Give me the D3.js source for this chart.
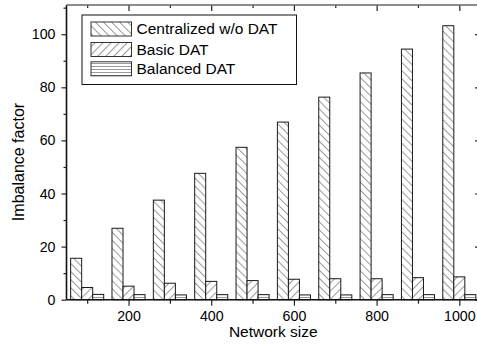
<!DOCTYPE html>
<html>
<head>
<meta charset="utf-8" />
<title>Imbalance factor</title>
<style>
  body { margin: 0; background: #fff; }
  text { font-family: "Liberation Sans", Arial, sans-serif; fill: #000; }
</style>
</head>
<body>
<svg id="chart" width="477" height="344"></svg>
<script src="https://d3js.org/d3.v7.min.js"></script>
<script>
var sizes = [100, 200, 300, 400, 500, 600, 700, 800, 900, 1000];
var centralized = [15.6, 26.9, 37.5, 47.6, 57.4, 66.9, 76.3, 85.4, 94.4, 103.2];
var basicDat = [4.6, 5.1, 6.2, 6.9, 7.2, 7.7, 7.9, 7.9, 8.3, 8.6];
var balancedDat = [2.0, 1.9, 1.8, 1.9, 1.9, 1.8, 1.8, 1.9, 1.9, 1.9];
var seriesNames = ["Centralized w/o DAT", "Basic DAT", "Balanced DAT"];
var xTicks = [200, 400, 600, 800, 1000];
var yTicks = [0, 20, 40, 60, 80, 100];

var svg = d3.select("#chart");
var plotL = 66.5, plotR = 480, plotT = 5, plotB = 299.7;

var x = d3.scaleLinear().domain([50, 1050]).range([plotL, plotR]);
var y = d3.scaleLinear().domain([0, 111]).range([plotB, plotT]);

// hatch patterns
var defs = svg.append("defs");
function hatch(id, angle, gap) {
  var p = defs.append("pattern")
    .attr("id", id)
    .attr("patternUnits", "userSpaceOnUse")
    .attr("width", gap).attr("height", gap)
    .attr("patternTransform", "rotate(" + angle + ")");
  p.append("rect").attr("width", gap).attr("height", gap).attr("fill", "#fff");
  p.append("line")
    .attr("x1", 0.5).attr("y1", 0).attr("x2", 0.5).attr("y2", gap)
    .attr("stroke", "#9a9a9a").attr("stroke-width", 1);
}
hatch("h0", -45, 5.7);
hatch("h1", 45, 5.7);
hatch("h2", 90, 3);
var fills = ["url(#h0)", "url(#h1)", "url(#h2)"];

var series = [centralized, basicDat, balancedDat];
var bw = 80 / 3;

series.forEach(function(vals, i) {
  svg.append("g").selectAll("rect")
    .data(vals)
    .enter().append("rect")
    .attr("x", function(d, j) { return x(sizes[j] - 40 + i * bw); })
    .attr("width", function(d, j) { return x(sizes[j] - 40 + (i + 1) * bw) - x(sizes[j] - 40 + i * bw); })
    .attr("y", function(d) { return y(d); })
    .attr("height", function(d) { return y(0) - y(d); })
    .attr("fill", fills[i])
    .attr("stroke", "#1a1a1a")
    .attr("stroke-width", 1);
});

// axes
var xMinor = d3.range(100, 1001, 200);
var yMinor = d3.range(10, 111, 20);

svg.append("g").attr("transform", "translate(0," + plotB + ")")
  .call(d3.axisBottom(x).tickValues(xTicks).tickSize(6).tickPadding(5).tickFormat(d3.format("d")));
svg.append("g").attr("transform", "translate(0," + plotB + ")")
  .call(d3.axisBottom(x).tickValues(xMinor).tickSize(4).tickFormat(""));

svg.append("g").attr("transform", "translate(" + plotL + ",0)")
  .call(d3.axisLeft(y).tickValues(yTicks).tickSize(5).tickPadding(6));
svg.append("g").attr("transform", "translate(" + plotL + ",0)")
  .call(d3.axisLeft(y).tickValues(yMinor).tickSize(3).tickFormat(""));

svg.append("g").attr("transform", "translate(0," + plotT + ")")
  .call(d3.axisTop(x).tickValues(xTicks).tickSize(-6).tickFormat(""));
svg.append("g").attr("transform", "translate(0," + plotT + ")")
  .call(d3.axisTop(x).tickValues(xMinor).tickSize(-3).tickFormat(""));

svg.append("g").attr("transform", "translate(" + plotR + ",0)")
  .call(d3.axisRight(y).tickValues(yTicks).tickSize(-5).tickFormat(""));
svg.append("g").attr("transform", "translate(" + plotR + ",0)")
  .call(d3.axisRight(y).tickValues(yMinor).tickSize(-3).tickFormat(""));

svg.selectAll(".domain").remove();
svg.selectAll(".tick line").attr("stroke", "#222").attr("stroke-width", 1.2);
svg.selectAll(".tick text")
  .style("font-family", "'Liberation Sans', Arial, sans-serif")
  .style("font-size", "14.2px").attr("fill", "#000");

// frame
svg.append("line").attr("x1", plotL).attr("x2", plotR).attr("y1", plotB).attr("y2", plotB)
  .attr("stroke", "#111").attr("stroke-width", 1.6);
svg.append("line").attr("x1", plotL).attr("x2", plotL).attr("y1", plotT).attr("y2", plotB)
  .attr("stroke", "#111").attr("stroke-width", 1.6);
svg.append("line").attr("x1", plotL).attr("x2", plotR).attr("y1", plotT).attr("y2", plotT)
  .attr("stroke", "#666").attr("stroke-width", 1.6);
svg.append("line").attr("x1", plotR).attr("x2", plotR).attr("y1", plotT).attr("y2", plotB)
  .attr("stroke", "#666").attr("stroke-width", 1.6);

// titles
svg.append("text")
  .attr("x", (plotL + plotR) / 2).attr("y", 336.5)
  .attr("text-anchor", "middle").style("font-size", "15.5px")
  .text("Network size");
svg.append("text")
  .attr("transform", "translate(23.5,162) rotate(-90)")
  .attr("text-anchor", "middle").style("font-size", "16px")
  .text("Imbalance factor");

// legend
var legend = svg.append("g");
legend.append("rect")
  .attr("x", 82).attr("y", 15).attr("width", 214.5).attr("height", 69.5)
  .attr("fill", "#fff").attr("stroke", "#111").attr("stroke-width", 1);
var rowY = [22, 42.5, 61.8];
seriesNames.forEach(function(name, i) {
  legend.append("rect")
    .attr("x", 91).attr("y", rowY[i]).attr("width", 40.5).attr("height", 14)
    .attr("fill", fills[i]).attr("stroke", "#333").attr("stroke-width", 1);
  legend.append("text")
    .attr("x", 136.5).attr("y", rowY[i] + 12)
    .style("font-size", "15.5px")
    .text(name);
});
</script>
</body>
</html>
